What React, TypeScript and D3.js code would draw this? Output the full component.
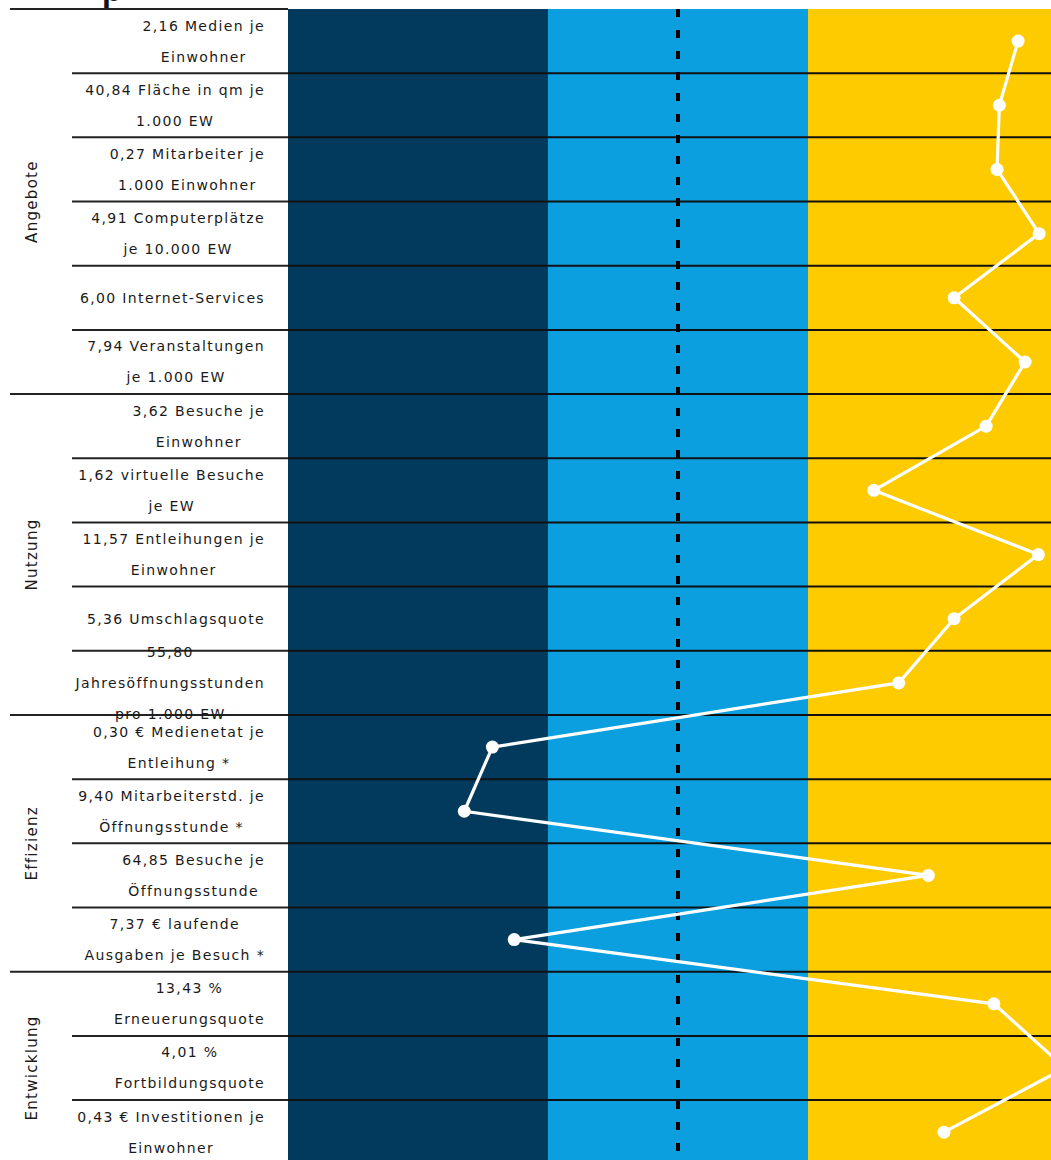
import React, { useEffect, useRef } from 'react';
import * as d3 from 'd3';

// Indicator labels (each entry = lines of the label), top to bottom
const indicatorLabels: string[][] = [
  ['2,16 Medien je', 'Einwohner'],
  ['40,84 Fläche in qm je', '1.000 EW'],
  ['0,27 Mitarbeiter je', '1.000 Einwohner'],
  ['4,91 Computerplätze', 'je 10.000 EW'],
  ['6,00 Internet-Services'],
  ['7,94 Veranstaltungen', 'je 1.000 EW'],
  ['3,62 Besuche je', 'Einwohner'],
  ['1,62 virtuelle Besuche', 'je EW'],
  ['11,57 Entleihungen je', 'Einwohner'],
  ['5,36 Umschlagsquote'],
  ['55,80', 'Jahresöffnungsstunden', 'pro 1.000 EW'],
  ['0,30 € Medienetat je', 'Entleihung *'],
  ['9,40 Mitarbeiterstd. je', 'Öffnungsstunde *'],
  ['64,85 Besuche je', 'Öffnungsstunde'],
  ['7,37 € laufende', 'Ausgaben je Besuch *'],
  ['13,43 %', 'Erneuerungsquote'],
  ['4,01 %', 'Fortbildungsquote'],
  ['0,43 € Investitionen je', 'Einwohner'],
];

// Position (index 0–100) of each indicator
const indicatorValues: number[] = [
  93.6, 91.2, 90.9, 96.3, 85.4, 94.5,
  89.5, 75.1, 96.2, 85.4, 78.3,
  26.2, 22.6, 82.1, 29.0,
  90.5, 99.6, 84.1,
];

const groupNames: string[] = ['Angebote', 'Nutzung', 'Effizienz', 'Entwicklung'];
const groupSizes: number[] = [6, 5, 4, 3];

const bandLimits: number[] = [0, 33.33, 66.67, 100];
const referenceValue = 50;

const W = 1051;
const H = 1160;
const TOP = 9;
const ROW_H = 64.18;
const PANEL_LEFT = 288;
const PANEL_RIGHT = 1068;
const LABEL_RIGHT = 265;
const ROW_LINE_LEFT = 72;
const GROUP_LINE_LEFT = 10;
const BAND_COLORS = ['#023a5d', '#0b9fdf', '#fdcb00'];
const FONT = '"DejaVu Sans", Verdana, sans-serif';

export default function App() {
  const ref = useRef<SVGSVGElement | null>(null);

  useEffect(() => {
    const svg = d3.select(ref.current);
    svg.selectAll('*').remove();

    const x = d3.scaleLinear().domain([0, 100]).range([PANEL_LEFT, PANEL_RIGHT]);
    const idx = indicatorLabels.map((_, i) => i);
    const y = d3
      .scaleBand<number>()
      .domain(idx)
      .range([TOP, TOP + ROW_H * indicatorLabels.length])
      .padding(0);
    const yc = (i: number) => (y(i) as number) + y.bandwidth() / 2;

    // title fragment (cut off at top, as in the reference)
    svg
      .append('text')
      .attr('x', 102)
      .attr('y', 1)
      .attr('font-family', '"Liberation Sans", Arial, sans-serif')
      .attr('font-weight', 'bold')
      .attr('font-size', 32)
      .attr('fill', '#111')
      .text('p');

    // colour bands
    const bandData = d3.pairs(bandLimits);
    svg
      .append('g')
      .selectAll('rect')
      .data(bandData)
      .join('rect')
      .attr('x', (d) => x(d[0]))
      .attr('width', (d) => x(d[1]) - x(d[0]))
      .attr('y', TOP)
      .attr('height', H - TOP)
      .attr('fill', (_, i) => BAND_COLORS[i]);

    const groupStarts: number[] = [];
    let acc = 0;
    groupSizes.forEach((s) => {
      groupStarts.push(acc);
      acc += s;
    });

    // label area top line
    svg
      .append('line')
      .attr('x1', GROUP_LINE_LEFT)
      .attr('x2', PANEL_LEFT)
      .attr('y1', TOP)
      .attr('y2', TOP)
      .attr('stroke', '#222')
      .attr('stroke-width', 2);

    // row lines
    const boundaries = idx.slice(1);
    const gl = svg.append('g');
    boundaries.forEach((i) => {
      const yy = y(i) as number;
      const isGroup = groupStarts.includes(i);
      gl.append('line')
        .attr('x1', isGroup ? GROUP_LINE_LEFT : ROW_LINE_LEFT)
        .attr('x2', PANEL_LEFT)
        .attr('y1', yy)
        .attr('y2', yy)
        .attr('stroke', '#222')
        .attr('stroke-width', 2);
      gl.append('line')
        .attr('x1', PANEL_LEFT)
        .attr('x2', W)
        .attr('y1', yy)
        .attr('y2', yy)
        .attr('stroke', '#111')
        .attr('stroke-width', 2);
    });

    // dashed reference line
    svg
      .append('line')
      .attr('x1', x(referenceValue))
      .attr('x2', x(referenceValue))
      .attr('y1', TOP)
      .attr('y2', H)
      .attr('stroke', '#000')
      .attr('stroke-width', 4)
      .attr('stroke-dasharray', '8 13');

    // indicator labels
    const lineGap = 31;
    const lg = svg.append('g');
    indicatorLabels.forEach((lines, i) => {
      const g = lg.append('g');
      const texts = lines.map((ln, k) =>
        g
          .append('text')
          .attr('y', yc(i) + (k - (lines.length - 1) / 2) * lineGap)
          .attr('dominant-baseline', 'central')
          .attr('text-anchor', 'middle')
          .attr('font-family', FONT)
          .attr('font-size', 14)
          .attr('letter-spacing', 1.35)
          .attr('fill', '#1a1a1a')
          .text(ln)
      );
      const widths = texts.map((t) => (t.node() as SVGTextElement).getComputedTextLength());
      const maxW = d3.max(widths) || 0;
      const cx = LABEL_RIGHT - maxW / 2;
      texts.forEach((t) => t.attr('x', cx));
    });

    // group labels
    groupNames.forEach((name, gi) => {
      const start = groupStarts[gi];
      const end = start + groupSizes[gi];
      const yEnd = end < indicatorLabels.length ? (y(end) as number) : TOP + ROW_H * indicatorLabels.length;
      const cy = ((y(start) as number) + yEnd) / 2;
      svg
        .append('text')
        .attr('transform', `translate(32,${cy}) rotate(-90)`)
        .attr('text-anchor', 'middle')
        .attr('dominant-baseline', 'central')
        .attr('font-family', FONT)
        .attr('font-size', 15)
        .attr('letter-spacing', 1.3)
        .attr('fill', '#1a1a1a')
        .text(name);
    });

    // profile line
    const line = d3
      .line<number>()
      .x((d) => x(d))
      .y((_, i) => yc(i));
    svg
      .append('path')
      .datum(indicatorValues)
      .attr('d', line)
      .attr('fill', 'none')
      .attr('stroke', '#fff')
      .attr('stroke-width', 3.2)
      .attr('stroke-linejoin', 'round');

    svg
      .append('g')
      .selectAll('circle')
      .data(indicatorValues)
      .join('circle')
      .attr('cx', (d) => x(d))
      .attr('cy', (_, i) => yc(i))
      .attr('r', 6.5)
      .attr('fill', '#fff');
  }, []);

  return (
    <svg
      ref={ref}
      width={W}
      height={H}
      viewBox={`0 0 ${W} ${H}`}
      style={{ position: 'absolute', left: 0, top: 0, display: 'block', background: '#fff' }}
    />
  );
}
